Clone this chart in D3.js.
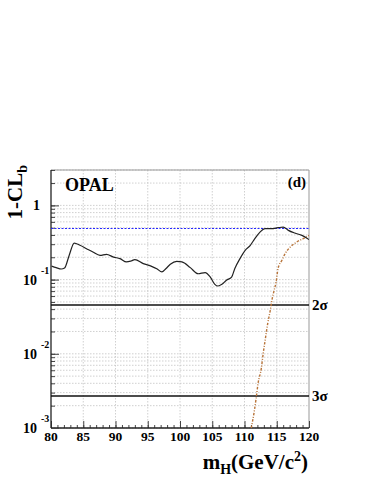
<!DOCTYPE html>
<meta charset="utf-8">
<html>
	<head>
		<script src="https://d3js.org/d3.v7.min.js"></script>
		<style>
			body { margin: 0; background: #fff; }
			text { font-family: "Liberation Serif", "Times New Roman", serif; font-weight: bold; fill: #000; }
		</style>
	</head>
	<body>
		<div id="chart"></div>
		<script>
			// Observed 1-CLb (solid black)
			var obsMass = [80.1, 80.8, 81.6, 82.1, 82.8, 83.6, 84.5, 85.5, 86.5, 87.6, 88.6, 89.7, 90.7, 91.7, 92.4, 93.0, 94.3, 95.6, 96.4, 97.2, 97.8, 98.5, 99.5, 100.3, 101.6, 102.8, 103.9, 104.7, 105.4, 105.9, 106.5, 107.2, 108.0, 108.5, 109.3, 110.1, 110.9, 111.6, 112.4, 113.2, 114.2, 115.2, 116.0, 116.8, 117.8, 118.9, 120];
			var obsVal = [0.152, 0.145, 0.139, 0.143, 0.21, 0.311, 0.29, 0.261, 0.235, 0.212, 0.219, 0.201, 0.192, 0.173, 0.178, 0.186, 0.164, 0.151, 0.14, 0.127, 0.14, 0.161, 0.176, 0.173, 0.145, 0.120, 0.124, 0.108, 0.0864, 0.082, 0.0864, 0.098, 0.108, 0.141, 0.192, 0.248, 0.290, 0.356, 0.437, 0.486, 0.486, 0.501, 0.51, 0.461, 0.424, 0.395, 0.346];

			// Expected for signal + background (dotted orange)
			var expMass = [111.05, 111.5, 111.8, 112.1, 112.6, 112.9, 113.2, 113.6, 114.0, 114.3, 114.6, 114.9, 115.2, 115.8, 116.3, 117.1, 118.1, 119.1, 120];
			var expVal = [0.001, 0.00165, 0.0025, 0.00398, 0.00633, 0.0101, 0.0152, 0.0256, 0.0386, 0.0555, 0.0718, 0.0929, 0.141, 0.182, 0.224, 0.275, 0.321, 0.356, 0.395];

			// Reference levels
			var medianLevel = 0.5;
			var sigmaLevels = [0.0455, 0.0027];
			var sigmaLabels = ["2", "3"];

			// Tick labels
			var xTicks = [80, 85, 90, 95, 100, 105, 110, 115, 120];
			var yTicks = [0.001, 0.01, 0.1, 1];
			var yExps = ["-3", "-2", "-1", ""];

			// Plot box ("top" is reserved on window, hence the prefix)
			var plotLeft = 51, plotRight = 309, plotTop = 170, plotBottom = 428;

			var svg = d3.select("#chart").append("svg")
				.attr("width", 371)
				.attr("height", 480);

			var x = d3.scaleLinear().domain([80, 120]).range([plotLeft, plotRight]);
			var y = d3.scaleLog().domain([0.001, 3]).range([plotBottom, plotTop]);

			// Grid lines
			var grid = svg.append("g")
				.attr("stroke", "#c4c4c4")
				.attr("stroke-width", 0.8)
				.attr("stroke-dasharray", "1.5,1.5");

			grid.selectAll(".gx").data(xTicks.slice(1, -1))
				.enter().append("line")
				.attr("x1", function(d) { return x(d); })
				.attr("x2", function(d) { return x(d); })
				.attr("y1", plotTop).attr("y2", plotBottom);

			grid.selectAll(".gy").data(y.ticks())
				.enter().append("line")
				.attr("x1", plotLeft).attr("x2", plotRight)
				.attr("y1", function(d) { return y(d); })
				.attr("y2", function(d) { return y(d); });

			// Frame
			svg.append("line").attr("x1", plotLeft).attr("x2", plotRight).attr("y1", plotTop).attr("y2", plotTop).attr("stroke", "#999");
			svg.append("line").attr("x1", plotRight).attr("x2", plotRight).attr("y1", plotTop).attr("y2", plotBottom).attr("stroke", "#999");

			// Axes
			var xAxis = svg.append("g")
				.attr("transform", "translate(0," + plotBottom + ")");
			xAxis.append("g")
				.call(d3.axisTop(x).ticks(40).tickSize(3).tickFormat(""))
				.call(function(g) { g.select(".domain").remove(); });
			xAxis.append("g")
				.call(d3.axisTop(x).tickValues(xTicks).tickSize(7).tickFormat(""))
				.call(function(g) { g.select(".domain").remove(); });
			xAxis.selectAll("line").attr("stroke", "#444");
			xAxis.append("line").attr("x1", plotLeft).attr("x2", plotRight).attr("stroke", "#222").attr("stroke-width", 1.3);

			xAxis.selectAll(".xl").data(xTicks)
				.enter().append("text")
				.attr("x", function(d) { return x(d); })
				.attr("y", 13)
				.attr("text-anchor", "middle")
				.attr("font-size", 13.5)
				.text(function(d) { return d; });

			var yAxis = svg.append("g")
				.attr("transform", "translate(" + plotLeft + ",0)");
			yAxis.append("g")
				.call(d3.axisRight(y).tickSize(4).tickFormat(""))
				.call(function(g) { g.select(".domain").remove(); });
			yAxis.append("g")
				.call(d3.axisRight(y).tickValues(yTicks).tickSize(8).tickFormat(""))
				.call(function(g) { g.select(".domain").remove(); });
			yAxis.selectAll("line").attr("stroke", "#444");
			yAxis.append("line").attr("y1", plotTop).attr("y2", plotBottom).attr("stroke", "#222").attr("stroke-width", 1.3);

			var yl = svg.selectAll(".yl").data(yTicks).enter().append("g");
			yl.append("text")
				.attr("x", function(d, i) { return yExps[i] ? 37 : 40; })
				.attr("y", function(d) { return y(d) + 5; })
				.attr("text-anchor", "end")
				.attr("font-size", 14)
				.text(function(d, i) { return yExps[i] ? "10" : "1"; });
			yl.append("text")
				.attr("x", 41)
				.attr("y", function(d) { return y(d) - 6; })
				.attr("font-size", 10)
				.text(function(d, i) { return yExps[i]; });

			// Median line
			svg.append("line")
				.attr("x1", plotLeft).attr("x2", plotRight)
				.attr("y1", Math.round(y(medianLevel)) + 0.5).attr("y2", Math.round(y(medianLevel)) + 0.5)
				.attr("stroke", "#2626ff")
				.attr("stroke-width", 1.2)
				.attr("stroke-dasharray", "2,1.5");

			// Sigma lines
			svg.selectAll(".sig").data(sigmaLevels)
				.enter().append("line")
				.attr("x1", plotLeft).attr("x2", plotRight)
				.attr("y1", function(d) { return y(d); })
				.attr("y2", function(d) { return y(d); })
				.attr("stroke", "#111")
				.attr("stroke-width", 1.3);

			var sl = svg.selectAll(".sigl").data(sigmaLevels)
				.enter().append("text")
				.attr("x", plotRight + 3)
				.attr("y", function(d) { return y(d) + 5; })
				.attr("font-size", 15)
				.attr("font-weight", "normal");
			sl.append("tspan").text(function(d, i) { return sigmaLabels[i]; });
			sl.append("tspan").text("\u03c3");

			// Curves
			svg.append("clipPath").attr("id", "clip")
				.append("rect").attr("x", plotLeft).attr("y", plotTop).attr("width", plotRight - plotLeft).attr("height", plotBottom - plotTop);

			var line = d3.line()
				.x(function(d) { return x(d[0]); })
				.y(function(d) { return y(d[1]); })
				.curve(d3.curveMonotoneX);

			svg.append("path")
				.datum(expMass.map(function(m, i) { return [m, expVal[i]]; }))
				.attr("clip-path", "url(#clip)")
				.attr("fill", "none")
				.attr("stroke", "#b8743a")
				.attr("stroke-width", 1.4)
				.attr("stroke-dasharray", "2.5,1.5,1,1.5")
				.attr("d", line);

			svg.append("path")
				.datum(obsMass.map(function(m, i) { return [m, obsVal[i]]; }))
				.attr("clip-path", "url(#clip)")
				.attr("fill", "none")
				.attr("stroke", "#222")
				.attr("stroke-width", 1.2)
				.attr("d", line);

			// Labels
			svg.append("text")
				.attr("x", 65).attr("y", 191)
				.attr("font-size", 18)
				.text("OPAL");

			svg.append("text")
				.attr("x", 306).attr("y", 187)
				.attr("text-anchor", "end")
				.attr("font-size", 15)
				.text("(d)");

			var yt = svg.append("text")
				.attr("transform", "translate(22,165) rotate(-90)")
				.attr("text-anchor", "end")
				.attr("font-size", 21);
			yt.append("tspan").text("1-CL");
			yt.append("tspan").attr("font-size", 14).attr("dy", 5).text("b");

			var xt = svg.append("text")
				.attr("x", 308).attr("y", 469)
				.attr("text-anchor", "end")
				.attr("font-size", 21);
			xt.append("tspan").text("m");
			xt.append("tspan").attr("font-size", 14).attr("dy", 5).text("H");
			xt.append("tspan").attr("dy", -5).text("(GeV/c");
			xt.append("tspan").attr("font-size", 14).attr("dy", -8).text("2");
			xt.append("tspan").attr("dy", 8).text(")");
		</script>
	</body>
</html>
